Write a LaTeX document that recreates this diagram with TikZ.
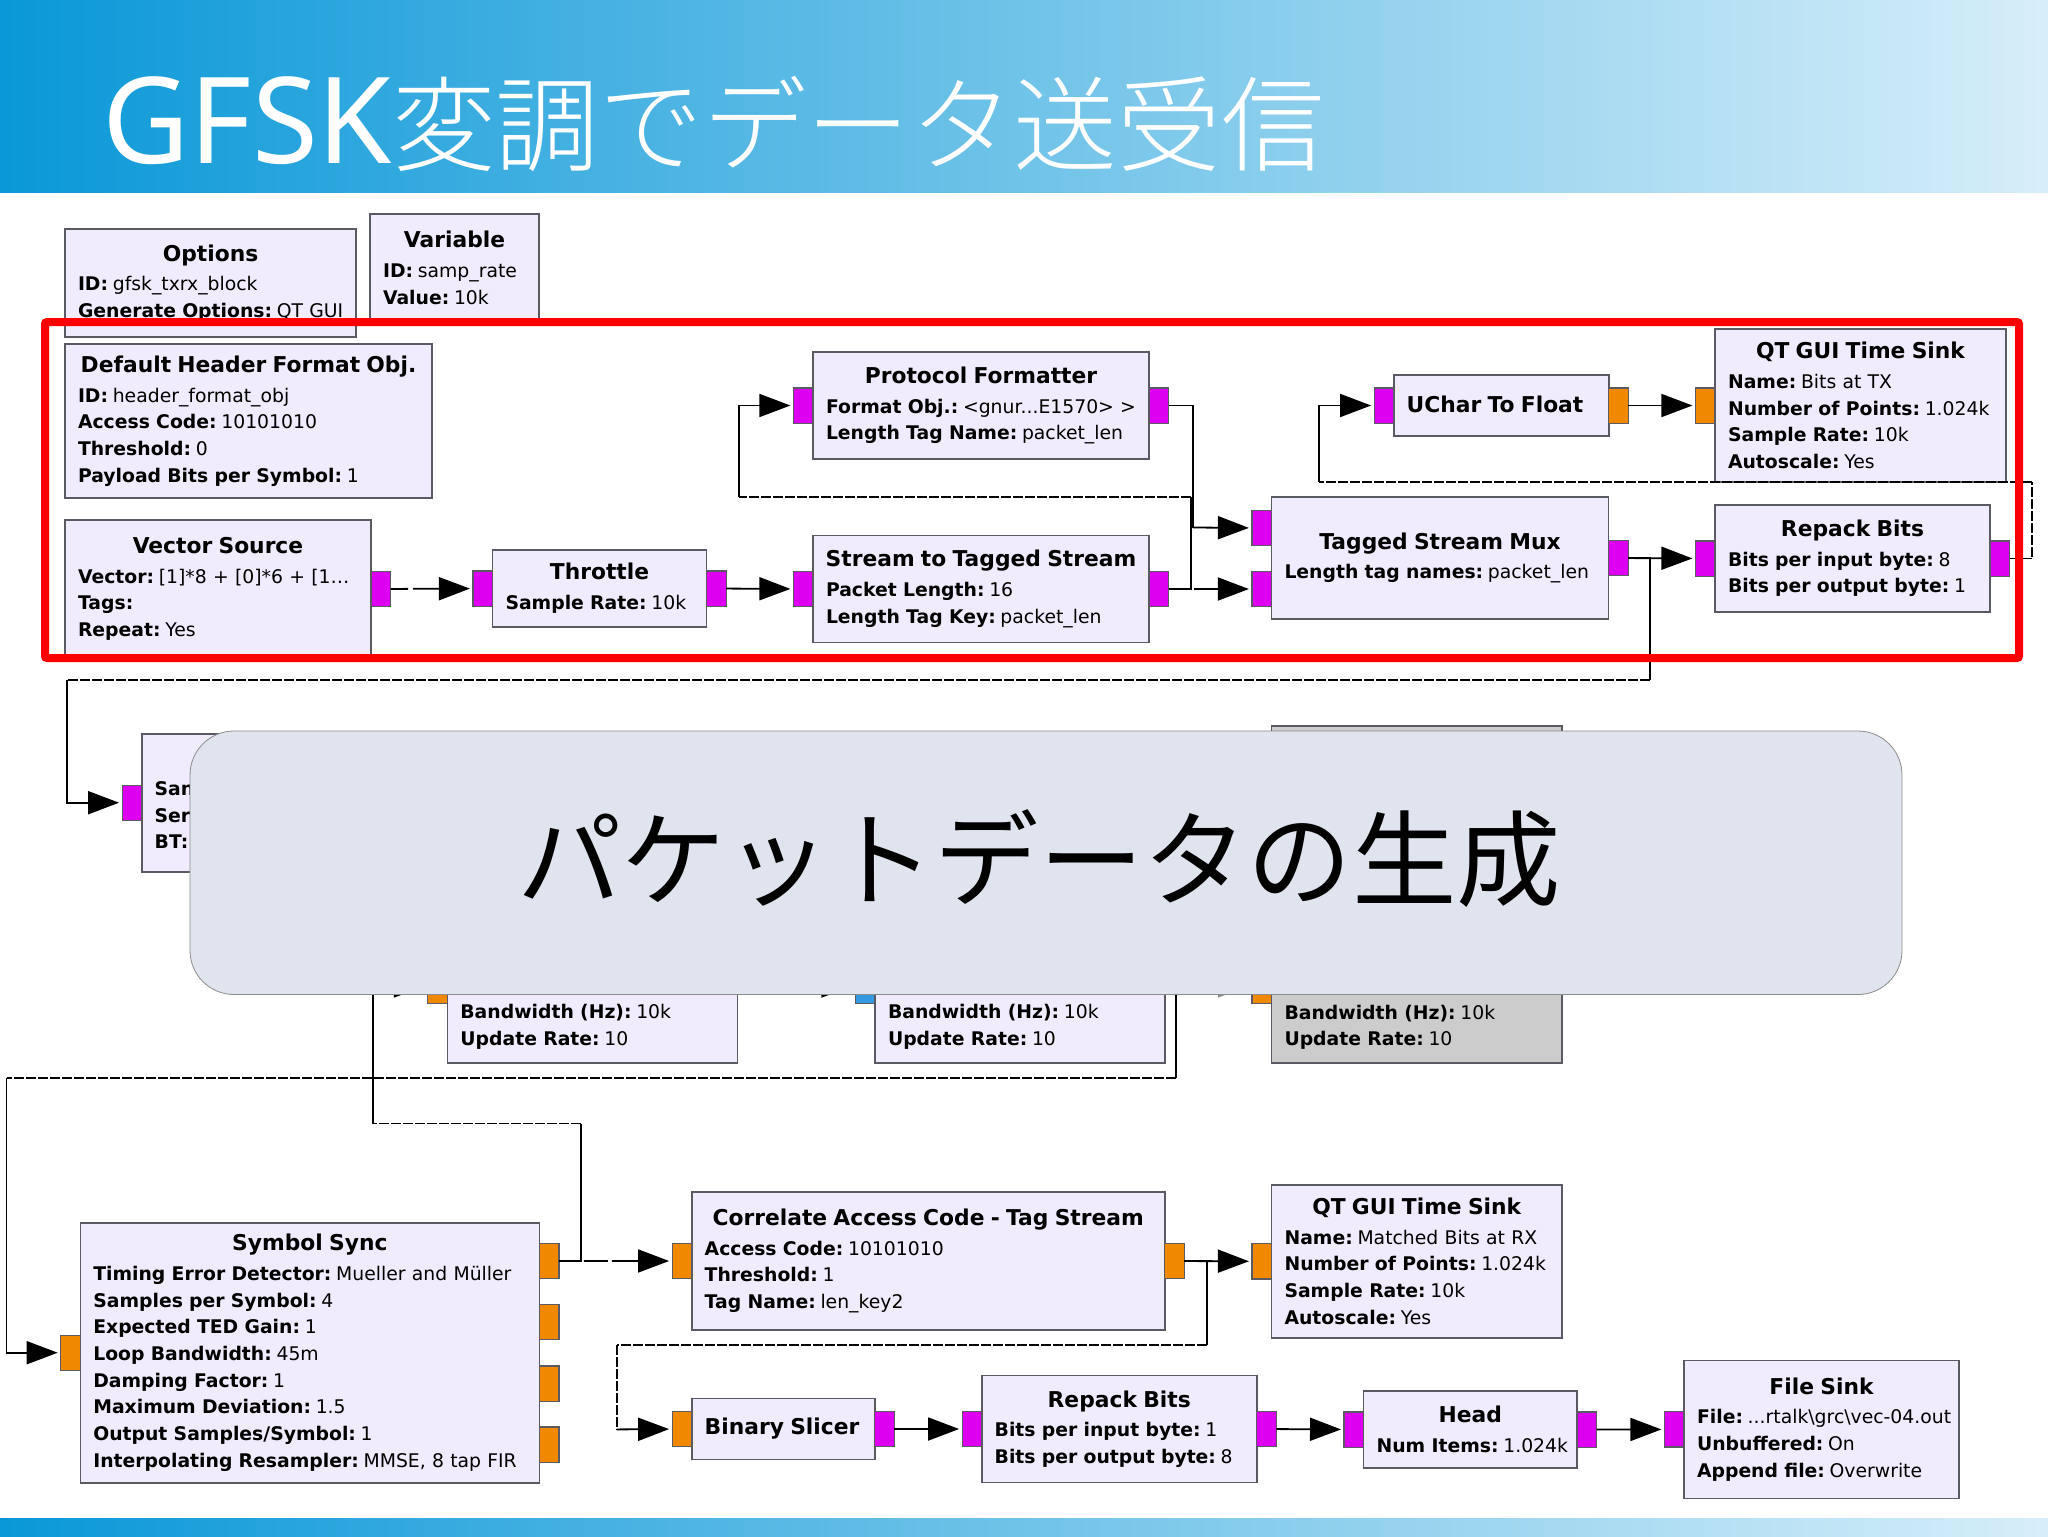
\documentclass[tikz,border=0pt]{standalone}
\usepackage{fontspec}
\usepackage{tikz}
\usetikzlibrary{positioning, arrows.meta}
\setmainfont{DejaVu Sans}
\newfontfamily\jpfont{Noto Sans CJK JP}
\newfontfamily\jplight{Noto Sans CJK JP Light}
\newfontfamily\latfont{Noto Sans}
\definecolor{blockfill}{HTML}{F1ECFD}
\definecolor{blockedge}{HTML}{5A5A62}
\definecolor{portm}{HTML}{DD00F0}
\definecolor{porto}{HTML}{F08800}
\definecolor{portb}{HTML}{3399E0}
\definecolor{captionfill}{HTML}{DFE4EE}
\definecolor{bannerl}{HTML}{0A98D8}
\definecolor{bannerm}{HTML}{5CBEEA}
\definecolor{bannerr}{HTML}{D6EEF9}
\newcommand{\titlefont}{\fontsize{10.9pt}{13.35pt}\selectfont\bfseries}
\newcommand{\ttl}[1]{\makebox[\hsize]{\titlefont #1}\\[1.5pt]}
\newcommand{\kv}[2]{\mbox{\textbf{#1:}\hspace{0.25em}#2}}

\begin{document}
\begin{tikzpicture}[x=0.5pt, y=-0.5pt]
		\useasboundingbox (0,0) rectangle (2048,1536);
		% Styles
		\tikzset{box/.style 2 args={text width=#1*0.5pt-13pt, minimum height=#2*0.5pt}}
		\tikzstyle{block} = [rectangle, draw=blockedge, fill=blockfill, line width=0.8pt, align=left,
		anchor=north west, inner xsep=6.5pt, inner ysep=0pt, outer sep=0pt,
		font=\fontsize{9.4pt}{13.35pt}\selectfont]
		\tikzstyle{port} = [rectangle, draw=blockedge, line width=0.6pt, inner sep=0pt, outer sep=0pt,
		minimum width=9.8pt, minimum height=17.6pt]
		\tikzstyle{mport} = [port, fill=portm]
		\tikzstyle{oport} = [port, fill=porto]
		\tikzstyle{bport} = [port, fill=portb]
		\tikzstyle{wire} = [draw, line width=0.9pt]
		\tikzstyle{dwire} = [wire, dash pattern=on 5pt off 1pt]
		\tikzstyle{line} = [wire, -{Triangle[length=15.5pt, width=11.5pt]}, shorten >=1.5pt]
		\tikzstyle{dline} = [line, dash pattern=on 8.8pt off 2.5pt on 30pt]
		\tikzstyle{longdline} = [line, dash pattern=on 11pt off 1.5pt on 12pt off 2pt on 30pt]
		\tikzstyle{banner} = [rectangle, anchor=north west, inner sep=0pt, outer sep=0pt,
		left color=bannerl, middle color=bannerm, right color=bannerr]

		% Banners
		\node [banner, minimum width=1024pt, minimum height=96pt] (topbar) at (0,0) {};
		\node [banner, minimum width=1024pt, minimum height=9pt] (bottombar) at (0,1518) {};
		\node [anchor=base west, inner sep=0pt, text=white] (title) at (102,163)
		{\fontsize{60pt}{60pt}\latfont GFSK\fontsize{51.8pt}{60pt}\jplight 変調でデータ送受信};

		% Nodes
		\node [block, box={291}{108}] (options) at (65,229)
		{\ttl{Options}\kv{ID}{gfsk\_txrx\_block}\\\kv{Generate Options}{QT GUI}};
		\node [block, box={169}{108}] (variable) at (370,214)
		{\ttl{Variable}\kv{ID}{samp\_rate}\\\kv{Value}{10k}};
		\node [block, box={367}{154}] (headerobj) at (65,344)
		{\ttl{Default Header Format Obj.}\kv{ID}{header\_format\_obj}\\\kv{Access Code}{10101010}\\\kv{Threshold}{0}\\\kv{Payload Bits per Symbol}{1}};
		\node [block, box={306}{138}] (vecsource) at (65,520)
		{\ttl{Vector Source}\kv{Vector}{[1]*8 + [0]*6 + [1…}\\\kv{Tags}{}\\\kv{Repeat}{Yes}};
		\node [block, box={214}{77}] (throttle) at (492.5,550)
		{\ttl{Throttle}\kv{Sample Rate}{10k}};
		\node [block, box={336}{107}] (protoformat) at (813,352)
		{\ttl{Protocol Formatter}\kv{Format Obj.}{<gnur...E1570> >}\\\kv{Length Tag Name}{packet\_len}};
		\node [block, box={336}{107}] (streamtag) at (813,535.5)
		{\ttl{Stream to Tagged Stream}\kv{Packet Length}{16}\\\kv{Length Tag Key}{packet\_len}};
		\node [block, box={337}{122}] (taggedmux) at (1271.5,497)
		{\ttl{Tagged Stream Mux}\kv{Length tag names}{packet\_len}};
		\node [block, box={215}{61}] (uchar) at (1393.7,375)
		{\raisebox{1.2pt}{\titlefont UChar To Float}};
		\node [block, box={291}{153}] (timesink) at (1715,329)
		{\ttl{QT GUI Time Sink}\kv{Name}{Bits at TX}\\\kv{Number of Points}{1.024k}\\\kv{Sample Rate}{10k}\\\kv{Autoscale}{Yes}};
		\node [block, box={275}{107}] (repacktx) at (1715,505)
		{\ttl{Repack Bits}\kv{Bits per input byte}{8}\\\kv{Bits per output byte}{1}};
		\node [block, box={160}{138}] (gfskmod) at (141.7,733.7)
		{\mbox{}\\[6pt]\textbf{San}\\\textbf{Ser}\\\textbf{BT:}};
		\node [block, box={290}{73}] (filtera) at (447.4,990)
		{\kv{Bandwidth (Hz)}{10k}\\\kv{Update Rate}{10}};
		\node [block, box={290}{73}] (filterb) at (875,990)
		{\kv{Bandwidth (Hz)}{10k}\\\kv{Update Rate}{10}};
		\node [block, box={290.5}{337}, fill=black!20] (filterc) at (1271.5,725.7)
		{\mbox{}\\[127pt]\kv{Bandwidth (Hz)}{10k}\\\kv{Update Rate}{10}};
		\node [block, box={459}{260}] (symsync) at (80.3,1222.7)
		{\ttl{Symbol Sync}\kv{Timing Error Detector}{Mueller and Müller}\\\kv{Samples per Symbol}{4}\\\kv{Expected TED Gain}{1}\\\kv{Loop Bandwidth}{45m}\\\kv{Damping Factor}{1}\\\kv{Maximum Deviation}{1.5}\\\kv{Output Samples/Symbol}{1}\\\kv{Interpolating Resampler}{MMSE, 8 tap FIR}};
		\node [block, box={473}{138}] (correlate) at (691.7,1192)
		{\ttl{Correlate Access Code - Tag Stream}\kv{Access Code}{10101010}\\\kv{Threshold}{1}\\\kv{Tag Name}{len\_key2}};
		\node [block, box={290.5}{153}] (rxsink) at (1271.5,1184.8)
		{\ttl{QT GUI Time Sink}\kv{Name}{Matched Bits at RX}\\\kv{Number of Points}{1.024k}\\\kv{Sample Rate}{10k}\\\kv{Autoscale}{Yes}};
		\node [block, box={183}{61}] (slicer) at (691.7,1398.5)
		{\raisebox{1.2pt}{\titlefont Binary Slicer}};
		\node [block, box={275}{107}] (repackrx) at (981.7,1375.5)
		{\ttl{Repack Bits}\kv{Bits per input byte}{1}\\\kv{Bits per output byte}{8}};
		\node [block, box={213.5}{77}] (head) at (1363.6,1391)
		{\ttl{Head}\kv{Num Items}{1.024k}};
		\node [block, box={275}{138}] (filesink) at (1684,1360.4)
		{\ttl{File Sink}\kv{File}{...rtalk\textbackslash grc\textbackslash vec-04.out}\\\kv{Unbuffered}{On}\\\kv{Append file}{Overwrite}};

		% Ports
		\node [mport, right=0pt of vecsource] (vecsourceout) {};
		\node [mport, left=0pt of throttle] (throttlein) {};
		\node [mport, right=0pt of throttle] (throttleout) {};
		\node [mport, left=0pt of protoformat] (protoin) {};
		\node [mport, right=0pt of protoformat] (protoout) {};
		\node [mport, left=0pt of streamtag] (streamin) {};
		\node [mport, right=0pt of streamtag] (streamout) {};
		\node [mport, left=0pt of taggedmux.west, yshift=15pt] (muxina) {};
		\node [mport, left=0pt of taggedmux.west, yshift=-15.5pt] (muxinb) {};
		\node [mport, right=0pt of taggedmux] (muxout) {};
		\node [mport, left=0pt of uchar] (ucharin) {};
		\node [oport, right=0pt of uchar] (ucharout) {};
		\node [oport, left=0pt of timesink] (timesinkin) {};
		\node [mport, left=0pt of repacktx] (repacktxin) {};
		\node [mport, right=0pt of repacktx] (repacktxout) {};
		\node [mport, left=0pt of gfskmod] (gfskmodin) {};
		\node [oport, left=0pt of filtera.north west, yshift=2pt] (filterain) {};
		\node [bport, left=0pt of filterb.north west, yshift=2pt] (filterbin) {};
		\node [oport, left=0pt of filterc.west, yshift=-45.8pt] (filtercin) {};
		\node [oport, left=0pt of symsync] (symsyncin) {};
		\node [oport, right=0pt of symsync.east, yshift=45.9pt] (symsyncouta) {};
		\node [oport, right=0pt of symsync.east, yshift=15.4pt] (symsyncoutb) {};
		\node [oport, right=0pt of symsync.east, yshift=-15.4pt] (symsyncoutc) {};
		\node [oport, right=0pt of symsync.east, yshift=-45.9pt] (symsyncoutd) {};
		\node [oport, left=0pt of correlate] (correlatein) {};
		\node [oport, right=0pt of correlate] (correlateout) {};
		\node [oport, left=0pt of rxsink] (rxsinkin) {};
		\node [oport, left=0pt of slicer] (slicerin) {};
		\node [mport, right=0pt of slicer] (slicerout) {};
		\node [mport, left=0pt of repackrx] (repackrxin) {};
		\node [mport, right=0pt of repackrx] (repackrxout) {};
		\node [mport, left=0pt of head] (headin) {};
		\node [mport, right=0pt of head] (headout) {};
		\node [mport, left=0pt of filesink] (filesinkin) {};

		% Bends
		\coordinate (streambend) at (1190.6,497);
		\coordinate (protobend) at (739,497);
		\coordinate (protodrop) at (1193,527.5);
		\coordinate (muxbend) at (1649.7,680);
		\coordinate (gfskbend) at (66.6,680);
		\coordinate (repackbend) at (2032,481.7);
		\coordinate (ucharbend) at (1319,481.7);
		\coordinate (syncbend) at (580.7,1123.5);
		\coordinate (filterabend) at (373,1123.5);
		\coordinate (filterbstart) at (1176,940);
		\coordinate (filterbbend) at (1176,1077.6);
		\coordinate (syncinbend) at (6.5,1077.6);
		\coordinate (correlatebend) at (1207,1344.6);
		\coordinate (slicerbend) at (616.6,1344.6);
		\coordinate (slicerdrop) at (616.6,1429.4);
		\coordinate (filterbfrom) at (790,986);
		\coordinate (filtercfrom) at (1195,986);

		% Connections
		\path [dline] (vecsourceout) -- (throttlein);
		\path [line] (throttleout) -- (streamin);
		\path [wire] (streamout) -| (streambend);
		\path [dwire] (streambend) -- (protobend);
		\path [line] (protobend) |- (protoin);
		\path [longdline] (streamout) -- (muxinb);
		\path [wire] (protoout) -| (protodrop);
		\path [line] (protodrop) -- (muxina);
		\path [line] (muxout) -- (repacktxin);
		\path [wire] (muxout) -| (muxbend);
		\path [dwire] (muxbend) -- (gfskbend);
		\path [line] (gfskbend) |- (gfskmodin);
		\path [dwire] (repacktxout) -| (repackbend);
		\path [dwire] (repackbend) -- (ucharbend);
		\path [line] (ucharbend) |- (ucharin);
		\path [line] (ucharout) -- (timesinkin);
		\path [longdline] (symsyncouta) -- (correlatein);
		\path [wire] (symsyncouta) -| (syncbend);
		\path [dwire] (syncbend) -- (filterabend);
		\path [line] (filterabend) |- (filterain);
		\path [line] (filterbfrom) -- (filterbin);
		\path [line, draw=black!45, fill=black!45] (filtercfrom) -- (filtercin);
		\path [wire] (filterbstart) -- (filterbbend);
		\path [dwire] (filterbbend) -- (syncinbend);
		\path [line] (syncinbend) |- (symsyncin);
		\path [line] (correlateout) -- (rxsinkin);
		\path [wire] (correlateout) -| (correlatebend);
		\path [dwire] (correlatebend) -- (slicerbend);
		\path [dwire] (slicerbend) -- (slicerdrop);
		\path [line] (slicerdrop) -- (slicerin);
		\path [line] (slicerout) -- (repackrxin);
		\path [line] (repackrxout) -- (headin);
		\path [line] (headout) -- (filesinkin);

		% Frame and caption
		\node [rectangle, draw=red, line width=4pt, rounded corners=1pt, anchor=north west, inner sep=0pt, outer sep=0pt,
		minimum width=987pt, minimum height=168pt] (redframe) at (45,322) {};
		\node [rectangle, draw=black!45, fill=captionfill, line width=0.4pt, rounded corners=22pt,
		anchor=north west, inner sep=0pt, outer sep=0pt, minimum width=856pt, minimum height=131.75pt] (caption) at (190,731)
		{\fontsize{52.2pt}{60pt}\jpfont\hspace*{-7pt}\raisebox{8.5pt}{パケットデータの生成}};
\end{tikzpicture}
\end{document}
